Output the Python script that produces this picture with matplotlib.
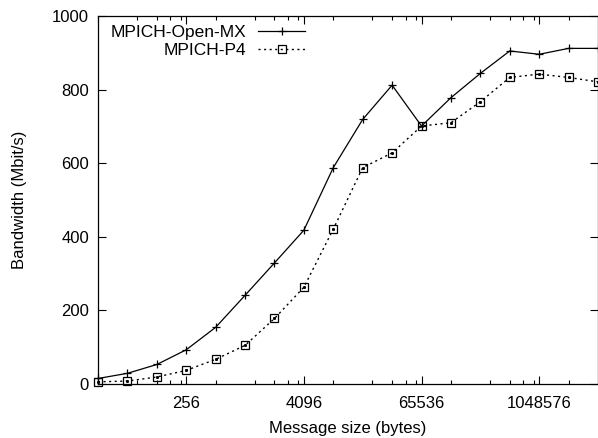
import numpy as np
import matplotlib
matplotlib.use("Agg")
import matplotlib.pyplot as plt
from matplotlib.ticker import LogLocator, FixedLocator, NullFormatter

# message sizes in bytes (powers of two)
sizes = [32, 64, 128, 256, 512, 1024, 2048, 4096, 8192, 16384, 32768,
         65536, 131072, 262144, 524288, 1048576, 2097152, 4194304]
# bandwidth in Mbit/s
openmx = [15, 29, 53, 93, 154, 241, 329, 418, 588, 719, 812,
          701, 778, 844, 905, 896, 912, 912]
p4 = [6, 8, 19, 37, 67, 105, 178, 263, 421, 588, 628,
      701, 710, 767, 833, 842, 833, 821]
xticks = [256, 4096, 65536, 1048576]
yticks = [0, 200, 400, 600, 800, 1000]

plt.rcParams['font.family'] = ['Liberation Sans', 'DejaVu Sans']
plt.rcParams['font.size'] = 12

fig = plt.figure(figsize=(5.98, 4.38), dpi=100)
ax = fig.add_axes([98 / 598, 54 / 438, 1 - 98 / 598, 368 / 438])

ax.plot(sizes, openmx, color='black', lw=0.9, marker='+', ms=5.5, mew=0.9,
        clip_on=False, label='MPICH-Open-MX')
ax.plot(sizes, p4, color='black', lw=1.0, ls=(0, (1.5, 2.5)), marker='s', ms=5.5,
        mfc='none', mew=0.9, clip_on=False, label='MPICH-P4')
# gnuplot draws a dot in the middle of each square
ax.plot(sizes, p4, ls='none', marker='s', ms=1.1, color='black', clip_on=False)

ax.set_xscale('log', base=2)
ax.set_xlim(32, 4194304)
ax.set_ylim(0, 1000)
ax.xaxis.set_major_locator(FixedLocator(xticks))
ax.xaxis.set_minor_locator(LogLocator(base=16, subs=[2, 5, 8, 11, 14]))
ax.xaxis.set_minor_formatter(NullFormatter())
ax.set_xticklabels([str(t) for t in xticks])
ax.set_yticks(yticks)

ax.tick_params(which='both', direction='in', top=True, right=True, width=0.8)
ax.tick_params(which='major', length=6)
ax.tick_params(which='minor', length=3)
ax.tick_params(axis='x', pad=8.5)
ax.tick_params(axis='y', pad=6.5)
for s in ax.spines.values():
    s.set_linewidth(0.9)

ax.set_xlabel('Message size (bytes)', labelpad=7)
ax.set_ylabel('Bandwidth (Mbit/s)', labelpad=18)

leg = ax.legend(loc='upper left', bbox_to_anchor=(0.004, 1.004), frameon=False,
                markerfirst=False, handlelength=2.7, handletextpad=0.7,
                labelspacing=0.15, numpoints=1, borderaxespad=0.2,
                prop={'size': 12.5})

fig.savefig('out.png', dpi=100)
